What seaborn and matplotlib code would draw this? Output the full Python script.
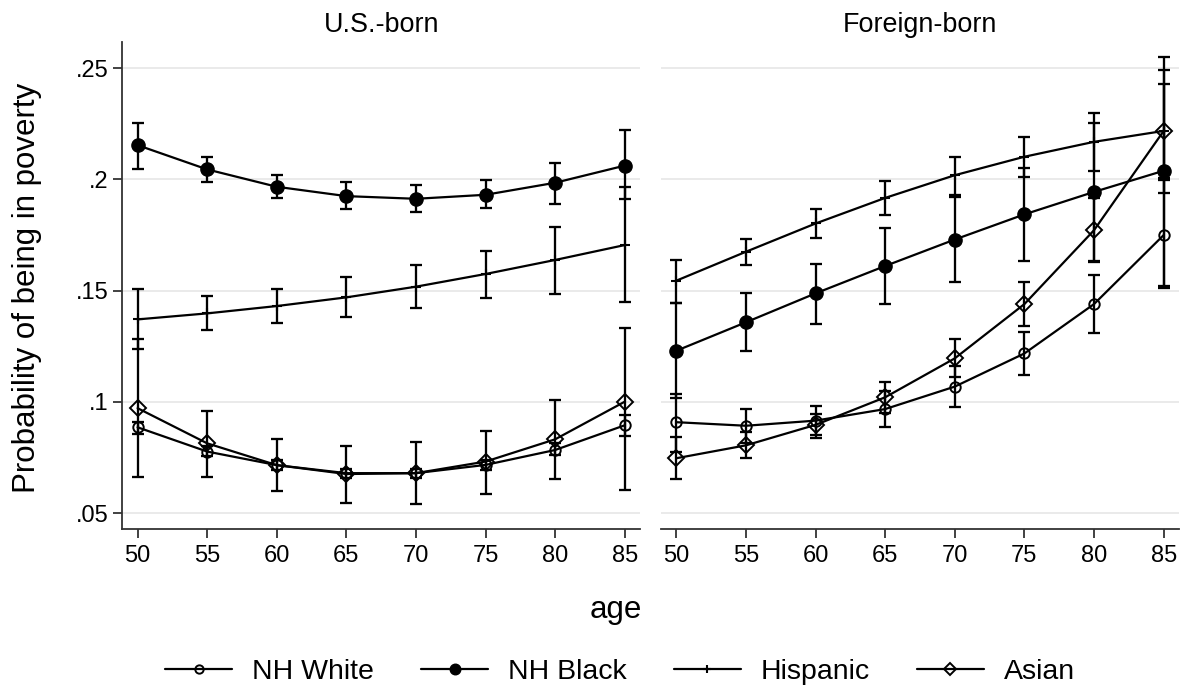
import numpy as np
import pandas as pd
import matplotlib
matplotlib.use("Agg")
import matplotlib.pyplot as plt
from matplotlib.lines import Line2D
import seaborn as sns

sns.set_theme(style="white")
plt.rcParams['font.family'] = ['Liberation Sans', 'DejaVu Sans']
plt.rcParams['text.color'] = 'black'
plt.rcParams['axes.labelcolor'] = 'black'
plt.rcParams['xtick.color'] = 'black'
plt.rcParams['ytick.color'] = 'black'

ages = [50, 55, 60, 65, 70, 75, 80, 85]
groups = ["NH White", "NH Black", "Hispanic", "Asian"]
panels = ["U.S.-born", "Foreign-born"]

# U.S.-born: estimates, lower and upper CI
us_white = [0.0886, 0.0777, 0.0716, 0.0680, 0.0680, 0.0717, 0.0784, 0.0895]
us_white_lo = [0.0856, 0.0755, 0.0695, 0.0660, 0.0660, 0.0695, 0.0760, 0.0847]
us_white_hi = [0.0911, 0.0800, 0.0737, 0.0700, 0.0700, 0.0739, 0.0814, 0.0941]

us_black = [0.2154, 0.2045, 0.1967, 0.1925, 0.1913, 0.1931, 0.1985, 0.2062]
us_black_lo = [0.2049, 0.1987, 0.1916, 0.1865, 0.1852, 0.1870, 0.1889, 0.1910]
us_black_hi = [0.2254, 0.2099, 0.2021, 0.1987, 0.1974, 0.1997, 0.2076, 0.2221]

us_hisp = [0.1371, 0.1398, 0.1431, 0.1470, 0.1518, 0.1575, 0.1638, 0.1705]
us_hisp_lo = [0.1238, 0.1323, 0.1356, 0.1380, 0.1421, 0.1468, 0.1485, 0.1450]
us_hisp_hi = [0.1506, 0.1476, 0.1509, 0.1563, 0.1617, 0.1677, 0.1784, 0.1964]

us_asian = [0.0972, 0.0814, 0.0716, 0.0676, 0.0680, 0.0732, 0.0832, 0.1001]
us_asian_lo = [0.0664, 0.0662, 0.0601, 0.0548, 0.0540, 0.0585, 0.0653, 0.0605]
us_asian_hi = [0.1281, 0.0959, 0.0832, 0.0804, 0.0819, 0.0870, 0.1009, 0.1331]

# Foreign-born
fb_white = [0.0909, 0.0893, 0.0916, 0.0968, 0.1069, 0.1218, 0.1440, 0.1750]
fb_white_lo = [0.0777, 0.0816, 0.0852, 0.0889, 0.0976, 0.1121, 0.1311, 0.1510]
fb_white_hi = [0.1036, 0.0970, 0.0980, 0.1047, 0.1161, 0.1316, 0.1570, 0.1997]

fb_black = [0.1230, 0.1358, 0.1488, 0.1611, 0.1730, 0.1843, 0.1944, 0.2039]
fb_black_lo = [0.1016, 0.1228, 0.1350, 0.1440, 0.1540, 0.1633, 0.1634, 0.1521]
fb_black_hi = [0.1443, 0.1488, 0.1620, 0.1780, 0.1922, 0.2052, 0.2254, 0.2551]

fb_hisp = [0.1545, 0.1675, 0.1802, 0.1917, 0.2019, 0.2102, 0.2169, 0.2218]
fb_hisp_lo = [0.1443, 0.1614, 0.1736, 0.1838, 0.1929, 0.2012, 0.2039, 0.2005]
fb_hisp_hi = [0.1638, 0.1733, 0.1865, 0.1994, 0.2102, 0.2191, 0.2299, 0.2431]

fb_asian = [0.0747, 0.0805, 0.0897, 0.1021, 0.1196, 0.1440, 0.1772, 0.2218]
fb_asian_lo = [0.0653, 0.0747, 0.0837, 0.0951, 0.1111, 0.1342, 0.1630, 0.1940]
fb_asian_hi = [0.0844, 0.0866, 0.0946, 0.1091, 0.1281, 0.1538, 0.1915, 0.2491]

y_ticks = [0.05, 0.10, 0.15, 0.20, 0.25]
y_ticklabels = [".05", ".1", ".15", ".2", ".25"]

series = {
    "U.S.-born": {
        "NH White": (us_white, us_white_lo, us_white_hi),
        "NH Black": (us_black, us_black_lo, us_black_hi),
        "Hispanic": (us_hisp, us_hisp_lo, us_hisp_hi),
        "Asian": (us_asian, us_asian_lo, us_asian_hi),
    },
    "Foreign-born": {
        "NH White": (fb_white, fb_white_lo, fb_white_hi),
        "NH Black": (fb_black, fb_black_lo, fb_black_hi),
        "Hispanic": (fb_hisp, fb_hisp_lo, fb_hisp_hi),
        "Asian": (fb_asian, fb_asian_lo, fb_asian_hi),
    },
}

rows = []
for p in panels:
    for g in groups:
        est, lo, hi = series[p][g]
        for a, e, l, h in zip(ages, est, lo, hi):
            rows.append(dict(panel=p, group=g, age=a, est=e, lo=l, hi=h))
df = pd.DataFrame(rows)

mstyle = {
    "NH White": dict(marker="o", markersize=7.5, markerfacecolor="none",
                     markeredgecolor="black", markeredgewidth=1.4),
    "NH Black": dict(marker="o", markersize=9.5, markerfacecolor="black",
                     markeredgecolor="black", markeredgewidth=1.0),
    "Hispanic": dict(marker="+", markersize=7.5, markeredgecolor="black",
                     markeredgewidth=1.5),
    "Asian": dict(marker="D", markersize=8, markerfacecolor="none",
                  markeredgecolor="black", markeredgewidth=1.4),
}

W, H = 1180, 689
fig = plt.figure(figsize=(W / 100, H / 100), dpi=100)
bottom = (H - 529) / H
height = (529 - 41.7) / H
ax1 = fig.add_axes([122.3 / W, bottom, (640 - 122.3) / W, height])
ax2 = fig.add_axes([661 / W, bottom, (1179 - 661) / W, height])

grid_c = "#e8e8e8"
spine_c = "#333333"

for ax, p in zip([ax1, ax2], panels):
    sub = df[df.panel == p]
    for g in groups:
        d = sub[sub.group == g]
        ax.errorbar(d["age"], d["est"],
                    yerr=[d["est"] - d["lo"], d["hi"] - d["est"]],
                    fmt="none", ecolor="black", elinewidth=1.65, capsize=4.5,
                    capthick=1.65, zorder=3)
        sns.lineplot(data=d, x="age", y="est", ax=ax, color="black", lw=1.6,
                     errorbar=None, zorder=4, legend=False, **mstyle[g])
    ax.set_xlim(48.9, 86.1)
    ax.set_ylim(0.0429, 0.2619)
    ax.set_xticks(ages)
    ax.set_xticklabels([str(a) for a in ages], fontsize=17)
    ax.set_yticks(y_ticks)
    ax.grid(axis="y", color=grid_c, lw=1.3)
    ax.grid(axis="x", visible=False)
    ax.set_axisbelow(True)
    ax.set_xlabel("")
    ax.set_ylabel("")
    ax.set_title(p, fontsize=19.4, pad=7, color="black")
    for s in ["top", "right"]:
        ax.spines[s].set_visible(False)
    ax.spines["bottom"].set_color(spine_c)
    ax.spines["bottom"].set_linewidth(1.3)
    ax.tick_params(axis="x", length=6.7, width=1.3, color=spine_c, pad=5, bottom=True)

ax1.set_yticklabels(y_ticklabels, fontsize=17)
ax1.spines["left"].set_color(spine_c)
ax1.spines["left"].set_linewidth(1.3)
ax1.tick_params(axis="y", length=6.7, width=1.3, color=spine_c, pad=3.5, left=True)

ax2.spines["left"].set_visible(False)
ax2.tick_params(axis="y", left=False, labelleft=False)

fig.text(27 / W, (H - 288) / H, "Probability of being in poverty", rotation=90,
         ha="center", va="center", fontsize=22.5, color="black")
fig.text(616 / W, (H - 610) / H, "age", ha="center", va="center", fontsize=22.5,
         color="black")

leg_style = {g: dict(mstyle[g]) for g in groups}
for g in groups:
    leg_style[g]["markersize"] = mstyle[g]["markersize"] * 0.8
handles = [Line2D([0], [0], color="black", lw=1.6, **leg_style[g]) for g in groups]
fig.legend(handles, groups, loc="center", bbox_to_anchor=(620 / W, (H - 672) / H),
           ncol=4, frameon=False, fontsize=20.5, handlelength=2.35,
           handletextpad=0.7, columnspacing=1.65, labelcolor="black")

fig.savefig("out.png", dpi=100)
